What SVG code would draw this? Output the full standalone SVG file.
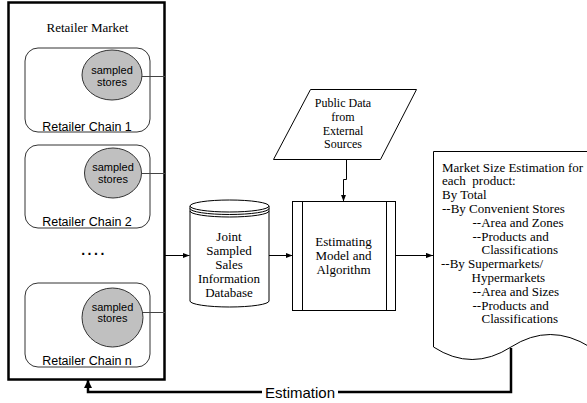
<svg xmlns="http://www.w3.org/2000/svg" width="587" height="403" viewBox="0 0 587 403">
<style>
.serif{font-family:"Liberation Serif","Times New Roman",serif;fill:#000}
.sans{font-family:"Liberation Sans",Arial,sans-serif;fill:#000}
.chain{fill:#fff;stroke:#333;stroke-width:1}
.store{fill:#c0c0c0;stroke:#333;stroke-width:1}
.shape{fill:#fff;stroke:#000;stroke-width:1}
.conn{fill:none;stroke:#000;stroke-width:1}
.link{fill:none;stroke:#444;stroke-width:1}
</style>
<defs>
<marker id="arr" viewBox="0 0 8 6" refX="8" refY="3" markerWidth="7" markerHeight="5.5" orient="auto" markerUnits="userSpaceOnUse">
<path d="M0,0 L8,3 L0,6 z" fill="#000"/>
</marker>
<marker id="arrBig" viewBox="0 0 8 8" refX="8" refY="4" markerWidth="8" markerHeight="9" orient="auto" markerUnits="userSpaceOnUse">
<path d="M0,0 L8,4 L0,8 z" fill="#000"/>
</marker>
</defs>
<rect width="587" height="403" fill="#fff"/>

<g id="retailer-market">
<rect x="8.5" y="2.5" width="156" height="377" fill="#fff" stroke="#000" stroke-width="2.5"/>
<text class="serif" x="87.5" y="32" font-size="13" text-anchor="middle">Retailer Market</text>
</g>

<g id="chain1">
<rect class="chain" x="25" y="48" width="125" height="84" rx="13"/>
<ellipse class="store" cx="112" cy="75" rx="30" ry="25"/>
<text class="sans" x="112" y="74" font-size="11" text-anchor="middle">sampled</text>
<text class="sans" x="112" y="85.5" font-size="11" text-anchor="middle">stores</text>
<text class="sans" x="87" y="130.5" font-size="12.5" text-anchor="middle">Retailer Chain 1</text>
</g>

<g id="chain2">
<rect class="chain" x="25" y="145" width="125" height="83" rx="13"/>
<ellipse class="store" cx="113" cy="173" rx="28.5" ry="25"/>
<text class="sans" x="113" y="171" font-size="11" text-anchor="middle">sampled</text>
<text class="sans" x="113" y="182.5" font-size="11" text-anchor="middle">stores</text>
<text class="sans" x="87" y="225.5" font-size="12.5" text-anchor="middle">Retailer Chain 2</text>
</g>

<text class="sans" x="94" y="255" font-size="14" font-weight="bold" letter-spacing="2.5" text-anchor="middle">....</text>

<g id="chainn">
<rect class="chain" x="25" y="283" width="125" height="84" rx="13"/>
<ellipse class="store" cx="112.5" cy="317.5" rx="30.5" ry="29.5"/>
<text class="sans" x="112.5" y="310.5" font-size="11" text-anchor="middle">sampled</text>
<text class="sans" x="112.5" y="322" font-size="11" text-anchor="middle">stores</text>
<text class="sans" x="87" y="364.5" font-size="12.5" text-anchor="middle">Retailer Chain n</text>
</g>

<g id="database">
<path class="shape" d="M190,206 V301 A39.5,6 0 0 0 269,301 V206"/>
<ellipse class="shape" cx="229.5" cy="206" rx="39.5" ry="6"/>
<path class="conn" d="M190,208.5 A39.5,6 0 0 0 269,208.5"/>
<path class="conn" d="M190,211 A39.5,6 0 0 0 269,211"/>
<g class="serif" font-size="13" text-anchor="middle">
<text x="229" y="241">Joint</text>
<text x="229" y="255">Sampled</text>
<text x="229" y="269">Sales</text>
<text x="229" y="283">Information</text>
<text x="229" y="297">Database</text>
</g>
</g>

<g id="public-data">
<path class="shape" d="M310.5,89.5 H416.5 L380.5,159.5 H273.5 Z"/>
<g class="serif" font-size="12" text-anchor="middle">
<text x="343" y="107">Public Data</text>
<text x="343" y="121">from</text>
<text x="343" y="134.5">External</text>
<text x="343" y="148">Sources</text>
</g>
</g>

<g id="model">
<rect class="shape" x="292.5" y="201.5" width="103" height="109"/>
<line class="conn" x1="302.5" y1="201.5" x2="302.5" y2="310.5"/>
<line class="conn" x1="386.5" y1="201.5" x2="386.5" y2="310.5"/>
<g class="serif" font-size="13" text-anchor="middle">
<text x="343.5" y="246">Estimating</text>
<text x="343.5" y="260">Model and</text>
<text x="343.5" y="274">Algorithm</text>
</g>
</g>

<g id="estimation-doc">
<path d="M600,151.5 H433.5 V347 Q472,372 511,347 T590,347" fill="#fff" stroke="#000" stroke-width="1"/>
<g class="serif" font-size="13">
<text x="442" y="171.5">Market Size Estimation for</text>
<text x="442" y="185.3" xml:space="preserve">each  product:</text>
<text x="442" y="199.1">By Total</text>
<text x="442" y="212.9">--By Convenient Stores</text>
<text x="472.5" y="226.7">--Area and Zones</text>
<text x="472.5" y="240.5">--Products and</text>
<text x="481.5" y="254.3">Classifications</text>
<text x="441" y="268.1">--By Supermarkets/</text>
<text x="471.5" y="281.9">Hypermarkets</text>
<text x="472.5" y="295.7">--Area and Sizes</text>
<text x="472.5" y="309.5">--Products and</text>
<text x="481.5" y="323.3">Classifications</text>
</g>
</g>

<g id="connectors">
<line class="link" x1="142" y1="76.5" x2="165" y2="76.5"/>
<line class="link" x1="141.5" y1="173.5" x2="165" y2="173.5"/>
<line class="link" x1="143" y1="312.5" x2="165" y2="312.5"/>
<path class="conn" d="M165,255.5 H189.5" marker-end="url(#arr)"/>
<path class="conn" d="M269,255.5 H292.5" marker-end="url(#arr)"/>
<path class="conn" d="M395.5,255.5 H433" marker-end="url(#arr)"/>
<path class="conn" d="M346.5,159.5 V179.5 H343.5 V201.5" marker-end="url(#arr)"/>
<path d="M511,348 V392 H88 V380" fill="none" stroke="#000" stroke-width="2.5" marker-end="url(#arrBig)"/>
<rect x="262" y="384" width="76" height="16" fill="#fff"/>
<text class="sans" x="300" y="397.5" font-size="15" text-anchor="middle">Estimation</text>
</g>
</svg>
